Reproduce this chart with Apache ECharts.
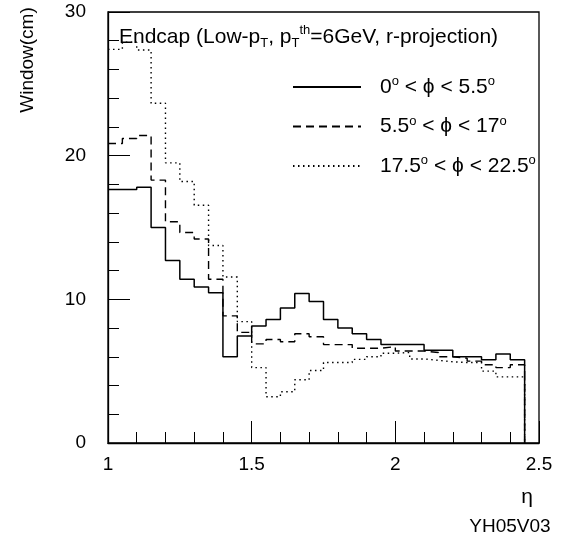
<!DOCTYPE html>
<html>
<head>
<meta charset="utf-8">
<script src="https://cdn.jsdelivr.net/npm/echarts@6/dist/echarts.min.js"></script>
<style>
html,body{margin:0;padding:0;background:#fff;}
#chart{width:561px;height:547px;}
</style>
</head>
<body>
<div id="chart"></div>
<script>
// Lower edges of eta bins (width 0.05); last bin closes at 2.45
const binLow = [1.00, 1.05, 1.10, 1.15, 1.20, 1.25, 1.30, 1.35, 1.40, 1.45,
                1.50, 1.55, 1.60, 1.65, 1.70, 1.75, 1.80, 1.85, 1.90, 1.95,
                2.00, 2.05, 2.10, 2.15, 2.20, 2.25, 2.30, 2.35, 2.40];
const binEnd = 2.45;

// Window (cm) for 0° < phi < 5.5°  (solid)
const windowPhiA = [17.65, 17.65, 17.8, 15.0, 12.7, 11.4, 10.85, 10.45, 6.0, 7.45,
                    8.15, 8.6, 9.4, 10.4, 9.85, 8.6, 8.0, 7.6, 7.2, 6.85,
                    6.85, 6.85, 6.45, 6.45, 6.0, 6.0, 5.8, 6.2, 5.8];
// Window (cm) for 5.5° < phi < 17°  (dashed)
const windowPhiB = [20.85, 21.2, 21.4, 18.3, 15.4, 14.65, 14.2, 11.4, 8.85, 7.7,
                    6.9, 7.2, 7.05, 7.6, 7.4, 6.85, 6.85, 6.6, 6.6, 6.7,
                    6.4, 6.4, 6.3, 6.0, 5.9, 5.7, 5.45, 5.25, 5.45];
// Window (cm) for 17.5° < phi < 22.5°  (dotted)
const windowPhiC = [27.4, 27.9, 27.35, 23.65, 19.5, 18.2, 16.55, 13.75, 11.55, 8.45,
                    5.25, 3.22, 3.57, 4.4, 5.05, 5.6, 5.6, 5.82, 6.0, 6.25,
                    6.3, 5.85, 5.75, 5.65, 5.6, 5.6, 5.0, 4.6, 4.6];

const seriesNames = ['phiA', 'phiB', 'phiC'];
const legendTexts = [
  '{g|}{a|0}{s|o}{a| < ϕ < 5.5}{s|o}',
  '{g|}{a|5.5}{s|o}{a| < ϕ < 17}{s|o}',
  '{g|}{a|17.5}{s|o}{a| < ϕ < 22.5}{s|o}'
];
const xTicks = [1, 1.5, 2, 2.5];
const yTicks = [0, 10, 20, 30];

const FONT = 'Liberation Sans, Arial, Helvetica, sans-serif';

function histData(vals) {
  const d = binLow.map((x, i) => [x, vals[i]]);
  d.push([binEnd, vals[vals.length - 1]]);
  d.push([binEnd, 0]);
  return d;
}

const chart = echarts.init(document.getElementById('chart'), null, {renderer: 'canvas'});

const lineBase = {
  type: 'line', step: 'end', showSymbol: false, symbol: 'none',
  animation: false, clip: true
};

chart.setOption({
  animation: false,
  backgroundColor: '#fff',
  textStyle: {fontFamily: FONT},
  grid: {left: 108, top: 12, right: 22, bottom: 104, show: true,
         borderColor: '#000', borderWidth: 1.3, backgroundColor: 'transparent'},
  title: {
    text: '{a|Endcap (Low-p}{sub|T}{a|, p}{sub|T}{sup|th}{a|=6GeV, r-projection)}',
    left: 119, top: 24, padding: 0,
    textStyle: {
      fontWeight: 'normal',
      rich: {
        a: {fontSize: 21, fontWeight: 'normal', fontFamily: FONT, color: '#000', lineHeight: 26, verticalAlign: 'middle'},
        sub: {fontSize: 13, fontWeight: 'normal', fontFamily: FONT, color: '#000', lineHeight: 13, verticalAlign: 'bottom'},
        sup: {fontSize: 13, fontWeight: 'normal', fontFamily: FONT, color: '#000', lineHeight: 13, verticalAlign: 'top'}
      }
    }
  },
  legend: {
    orient: 'vertical', left: 292, top: 75, padding: 0,
    itemWidth: 68, itemHeight: 10, itemGap: 17,
    data: seriesNames,
    itemStyle: {opacity: 0},
    formatter: function (name) { return legendTexts[seriesNames.indexOf(name)]; },
    textStyle: {
      rich: {
        g: {width: 14},
        a: {fontSize: 21, fontFamily: FONT, color: '#000', lineHeight: 24, verticalAlign: 'middle'},
        s: {fontSize: 13, fontFamily: FONT, color: '#000', lineHeight: 13, verticalAlign: 'top'}
      }
    },
    selectedMode: false
  },
  xAxis: {
    type: 'value', min: 1, max: 2.5, interval: 0.5,
    axisLine: {show: true, onZero: false, lineStyle: {color: '#000', width: 1.3}},
    axisTick: {show: true, inside: true, length: 22, lineStyle: {color: '#000', width: 1}},
    minorTick: {show: true, splitNumber: 5, length: 11, lineStyle: {color: '#000', width: 1}},
    splitLine: {show: false},
    axisLabel: {
      color: '#000', fontSize: 19, fontFamily: FONT, margin: 12,
      showMinLabel: true, showMaxLabel: true,
      formatter: function (v) { return xTicks.indexOf(v) >= 0 ? String(v) : ''; }
    }
  },
  yAxis: {
    type: 'value', min: 0, max: 30, interval: 10,
    axisLine: {show: true, onZero: false, lineStyle: {color: '#000', width: 1.3}},
    axisTick: {show: true, inside: true, length: 22, lineStyle: {color: '#000', width: 1}},
    minorTick: {show: true, splitNumber: 5, length: 11, lineStyle: {color: '#000', width: 1}},
    splitLine: {show: false},
    axisLabel: {
      color: '#000', fontSize: 19, fontFamily: FONT, margin: 22,
      formatter: function (v) { return yTicks.indexOf(v) >= 0 ? String(v) : ''; }
    }
  },
  series: [
    Object.assign({}, lineBase, {
      name: seriesNames[0], data: histData(windowPhiA),
      lineStyle: {color: '#000', width: 1.5, type: 'solid'},
      itemStyle: {color: '#000'}
    }),
    Object.assign({}, lineBase, {
      name: seriesNames[1], data: histData(windowPhiB),
      lineStyle: {color: '#000', width: 1.4, type: [8, 5]},
      itemStyle: {color: '#000'}
    }),
    Object.assign({}, lineBase, {
      name: seriesNames[2], data: histData(windowPhiC),
      lineStyle: {color: '#000', width: 1.4, type: [1.5, 3.5]},
      itemStyle: {color: '#000'}
    })
  ],
  graphic: [
    {type: 'text', x: 28, y: 60, rotation: Math.PI / 2, silent: true,
     style: {text: 'Window(cm)', fill: '#000', font: '19px ' + FONT, align: 'center', verticalAlign: 'middle'}},
    {type: 'text', x: 527, y: 497, silent: true,
     style: {text: 'η', fill: '#000', font: '21px ' + FONT, align: 'center', verticalAlign: 'middle'}},
    {type: 'text', x: 510, y: 527, silent: true,
     style: {text: 'YH05V03', fill: '#000', font: '19px ' + FONT, align: 'center', verticalAlign: 'middle'}}
  ]
});
</script>
</body>
</html>
